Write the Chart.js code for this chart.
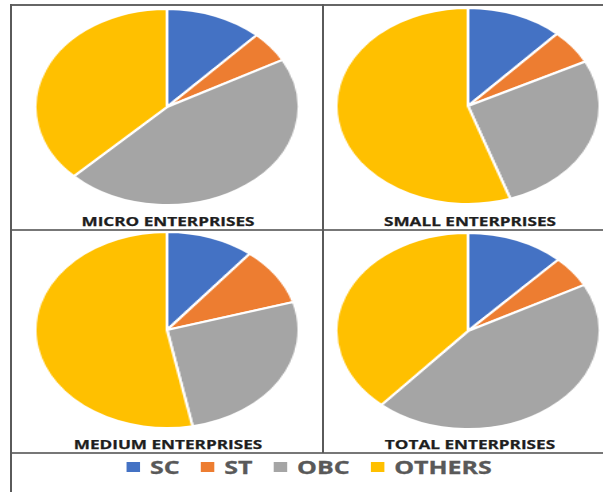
<!DOCTYPE html>
<html>
<head>
<meta charset="utf-8">
<script src="https://cdn.jsdelivr.net/npm/chart.js@4.4.0/dist/chart.umd.min.js"></script>
<style>
  html, body { margin:0; padding:0; background:#fff; }
  #page { position:relative; width:603px; height:492px; overflow:hidden; font-family:"Open Sans", sans-serif; }
  .ln { position:absolute; background:#5a5a5a; }
  .pie { position:absolute; width:198px; height:198px; transform:scaleX(1.345); transform-origin:center center; }
  .ttl { position:absolute; width:300px; text-align:center; font-weight:700; font-size:13px; line-height:16px; color:#1e1e1e; transform:scaleX(1.32); transform-origin:center center; white-space:nowrap; -webkit-text-stroke:0.25px #1e1e1e; }
  #legend { position:absolute; left:11.5px; top:456px; width:603px; display:flex; justify-content:center; transform:scaleX(1.35); transform-origin:313px center; }
  .item { display:flex; align-items:center; margin:0 8px; }
  .sw { width:10px; height:10px; margin-right:7px; }
  .lt { font-weight:700; font-size:18.5px; line-height:22px; color:#595959; -webkit-text-stroke:0.3px #595959; }
</style>
</head>
<body>
<div id="page">
  <div class="ln" style="left:10px;top:4px;width:593px;height:2px;background:#666"></div>
  <div class="ln" style="left:10px;top:229px;width:593px;height:2px;background:#777"></div>
  <div class="ln" style="left:10px;top:452px;width:593px;height:2px;background:#777"></div>
  <div class="ln" style="left:10px;top:4px;width:2px;height:488px"></div>
  <div class="ln" style="left:322px;top:4px;width:2px;height:449px"></div>
</div>
<script>
// values (percent shares)
const categories = ['SC', 'ST', 'OBC', 'OTHERS'];
const colors = ['#4472C4', '#ED7D31', '#A5A5A5', '#FFC000'];
const micro  = [11.9, 5.1, 45.5, 37.5];
const small  = [11.8, 5.7, 27.3, 55.2];
const medium = [10.8, 9.6, 26.5, 53.1];
const total  = [12.0, 5.2, 44.2, 38.6];
const titles = ['MICRO ENTERPRISES', 'SMALL ENTERPRISES', 'MEDIUM ENTERPRISES', 'TOTAL ENTERPRISES'];

const page = document.getElementById('page');
const panels = [
  { data: micro,  cx: 167, cy: 107, ty: 213 },
  { data: small,  cx: 468, cy: 106, ty: 213 },
  { data: medium, cx: 167, cy: 330, ty: 436 },
  { data: total,  cx: 468, cy: 331, ty: 436 },
];

panels.forEach((p, i) => {
  const wrap = document.createElement('div');
  wrap.className = 'pie';
  wrap.style.left = (p.cx - 99) + 'px';
  wrap.style.top = (p.cy - 99) + 'px';
  const cv = document.createElement('canvas');
  cv.width = 198; cv.height = 198;
  wrap.appendChild(cv);
  page.appendChild(wrap);

  new Chart(cv.getContext('2d'), {
    type: 'pie',
    data: { labels: categories, datasets: [{ data: p.data, backgroundColor: colors, borderColor: '#ffffff', borderWidth: 2 }] },
    options: {
      responsive: false, animation: false,
      layout: { padding: 0 },
      plugins: { legend: { display: false }, tooltip: { enabled: false } },
    },
  });

  const t = document.createElement('div');
  t.className = 'ttl';
  t.textContent = titles[i];
  t.style.left = ((i % 2 ? 470 : 168) - 150) + 'px';
  t.style.top = p.ty + 'px';
  page.appendChild(t);
});

const lg = document.createElement('div');
lg.id = 'legend';
categories.forEach((c, i) => {
  lg.insertAdjacentHTML('beforeend', `<div class="item"><div class="sw" style="background:${colors[i]}"></div><div class="lt">${c}</div></div>`);
});
page.appendChild(lg);
</script>
</body>
</html>
